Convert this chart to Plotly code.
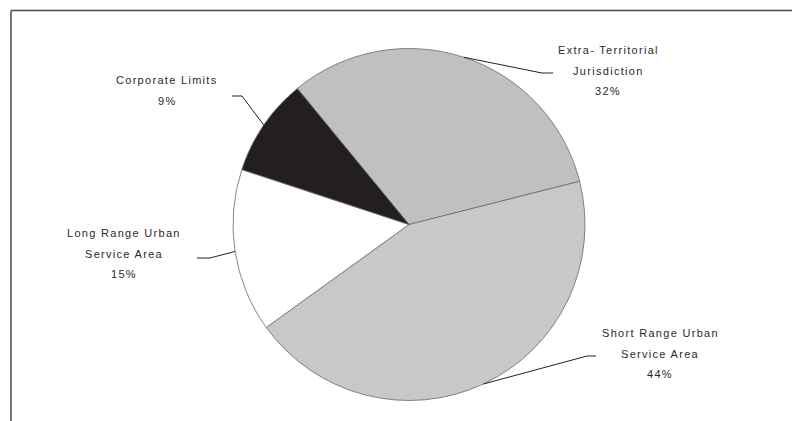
import math
import plotly.graph_objects as go

# ---- data ----
categories = ["Extra- Territorial Jurisdiction", "Short Range Urban Service Area",
              "Long Range Urban Service Area", "Corporate Limits"]
values = [32, 44, 15, 9]
label_lines = [["Extra- Territorial", "Jurisdiction"],
               ["Short Range Urban", "Service Area"],
               ["Long Range Urban", "Service Area"],
               ["Corporate Limits"]]
colors = ["#c0c0c0", "#c7c8ca", "#ffffff", "#231f20"]

# ---- layout geometry (pixels) ----
W, H = 792, 421
cx, cy, R = 409, 224.5, 176
rotation = -39.4
# label block: center x, first line y
label_pos = [(608, 50), (660, 333), (124, 233), (167, 80)]
# leader elbow points: (elbow, end)
elbows = [((542, 73), (553, 73)), ((587, 356), (596, 356)),
          ((210, 258), (197, 258)), ((242, 96), (232, 96))]
line_gap = 20.5

def px(x):
    return x / W

def py(y):
    return 1 - y / H

fig = go.Figure(go.Pie(
    labels=categories, values=values, sort=False, direction="clockwise",
    rotation=rotation, textinfo="none", hoverinfo="label+percent",
    marker=dict(colors=colors, line=dict(color="#6a6a6a", width=0.8)),
    domain=dict(x=[px(cx - R), px(cx + R)], y=[py(cy + R), py(cy - R)]),
    showlegend=False,
))

total = sum(values)
annotations = []
shapes = []
cum = 0
for i, v in enumerate(values):
    mid = rotation + (cum + v / 2) / total * 360
    cum += v
    a = math.radians(mid)
    ex, ey = cx + R * math.sin(a), cy - R * math.cos(a)
    (bx, by), (tx, ty) = elbows[i]
    path = f"M {px(ex)},{py(ey)} L {px(bx)},{py(by)} L {px(tx)},{py(ty)}"
    shapes.append(dict(type="path", xref="paper", yref="paper", path=path,
                       line=dict(color="#222", width=1)))
    lines = label_lines[i] + [f"{v / total * 100:.0f}%"]
    lx, ly = label_pos[i]
    for j, t in enumerate(lines):
        annotations.append(dict(
            x=px(lx), y=py(ly + j * line_gap), xref="paper", yref="paper",
            text=f'<span style="letter-spacing:1.3px">{t}</span>',
            showarrow=False, xanchor="center", yanchor="middle",
            font=dict(family="Liberation Sans, Arial, sans-serif", size=11, color="#2a2a2a")))

# frame lines (left and top)
shapes.append(dict(type="line", xref="paper", yref="paper",
                   x0=px(11), y0=py(10.5), x1=px(11), y1=0,
                   line=dict(color="#4a4a4a", width=1.5)))
shapes.append(dict(type="line", xref="paper", yref="paper",
                   x0=px(11), y0=py(10.5), x1=1, y1=py(10.5),
                   line=dict(color="#4a4a4a", width=1.5)))

fig.update_layout(width=W, height=H, margin=dict(l=0, r=0, t=0, b=0),
                  paper_bgcolor="white", plot_bgcolor="white",
                  annotations=annotations, shapes=shapes)
fig.write_html("out.html")
